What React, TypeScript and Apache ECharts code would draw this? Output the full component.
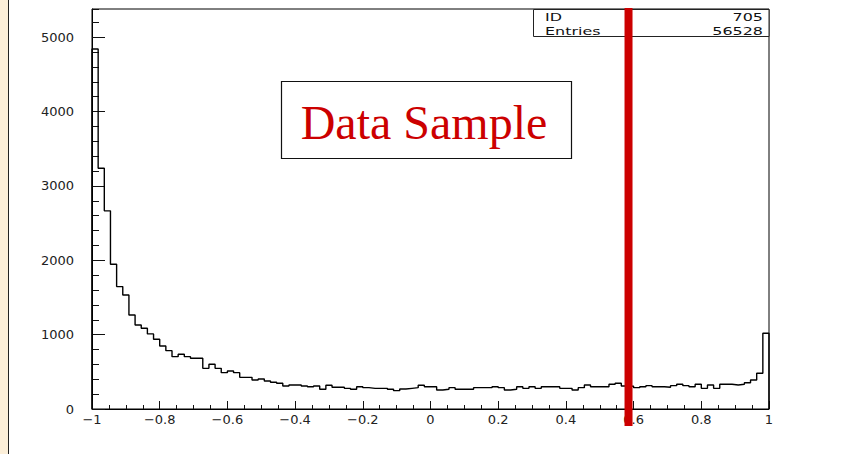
import React, { useEffect, useRef } from "react";
import * as echarts from "echarts";

// Histogram binning
const BIN_COUNT = 110;
const X_MIN = -1;
const X_MAX = 1;

// Entries per bin, left to right
const binCounts = [
  4841, 3239, 2665, 1947, 1646, 1534, 1265, 1130, 1086, 1010,
  938, 848, 785, 704, 736, 704, 682, 682, 547, 601,
  547, 489, 511, 489, 426, 426, 390, 404, 377, 359,
  346, 310, 323, 323, 310, 300, 310, 265, 319, 292,
  292, 278, 265, 300, 287, 278, 278, 278, 265, 247,
  269, 278, 287, 319, 300, 300, 256, 265, 287, 265,
  265, 265, 287, 287, 287, 300, 287, 256, 265, 300,
  278, 300, 278, 300, 300, 300, 278, 278, 256, 287,
  323, 300, 300, 300, 332, 346, 310, 305, 287, 300,
  314, 300, 300, 292, 314, 332, 314, 300, 332, 278,
  323, 278, 332, 332, 323, 332, 354, 390, 480, 1019,
];

const xTickValues = [-1, -0.8, -0.6, -0.4, -0.2, 0, 0.2, 0.4, 0.6, 0.8, 1];
const xTickLabels = ["\u22121", "\u22120.8", "\u22120.6", "\u22120.4", "\u22120.2", "0", "0.2", "0.4", "0.6", "0.8", "1"];
const yTickValues = [0, 1000, 2000, 3000, 4000, 5000];
const yTickLabels = ["0", "1000", "2000", "3000", "4000", "5000"];
const Y_MAX = 5380;

const statsLabels = ["ID", "Entries"];
const statsValues = ["705", "56528"];

const CUT_VALUE = 0.585;
const TITLE_TEXT = "Data Sample";

const AXIS_FONT = "'DejaVu Sans', 'Liberation Sans', sans-serif";

function labelFor(values: number[], labels: string[], v: number): string {
  const i = values.findIndex((t) => Math.abs(t - v) < 1e-6);
  return i >= 0 ? labels[i] : "";
}

export default function App() {
  const ref = useRef<HTMLDivElement>(null);

  useEffect(() => {
    if (!ref.current) return;
    const chart = echarts.init(ref.current, null, { renderer: "svg" });

    const binWidth = (X_MAX - X_MIN) / BIN_COUNT;
    const stepPoints: number[][] = [[X_MIN, 0]];
    binCounts.forEach((c, i) => stepPoints.push([X_MIN + i * binWidth, c]));
    stepPoints.push([X_MAX, binCounts[binCounts.length - 1]]);
    stepPoints.push([X_MAX, 0]);

    const tickColor = "#111";

    chart.setOption({
      animation: false,
      backgroundColor: "#fff",
      grid: {
        left: 92,
        top: 9,
        width: 677,
        height: 400,
        show: true,
        borderColor: "#000",
        borderWidth: 1,
        backgroundColor: "#fff",
      },
      xAxis: {
        type: "value",
        min: X_MIN,
        max: X_MAX,
        interval: 0.2,
        axisLine: { show: true, onZero: false, lineStyle: { color: "#000", width: 1 } },
        axisTick: { show: true, inside: true, length: 8, lineStyle: { color: tickColor } },
        minorTick: { show: true, splitNumber: 4, length: 4, lineStyle: { color: tickColor } },
        splitLine: { show: false },
        axisLabel: {
          margin: 4,
          fontFamily: AXIS_FONT,
          fontSize: 13,
          color: "#222",
          formatter: (v: number) => labelFor(xTickValues, xTickLabels, v),
        },
      },
      yAxis: [
        {
          type: "value",
          min: 0,
          max: Y_MAX,
          interval: 1000,
          axisLine: { show: true, onZero: false, lineStyle: { color: "#000", width: 1 } },
          axisTick: { show: true, inside: true, length: 13, lineStyle: { color: tickColor } },
          splitLine: { show: false },
          axisLabel: {
            margin: 18,
            showMaxLabel: false,
            fontFamily: AXIS_FONT,
            fontSize: 13,
            color: "#222",
            formatter: (v: number) => labelFor(yTickValues, yTickLabels, v),
          },
        },
        {
          type: "value",
          position: "left",
          min: 0,
          max: Y_MAX,
          interval: 200,
          axisLine: { show: false, onZero: false },
          axisTick: { show: true, inside: true, length: 7, lineStyle: { color: tickColor } },
          splitLine: { show: false },
          axisLabel: { show: false },
        },
      ],
      series: [
        {
          type: "line",
          yAxisIndex: 0,
          step: "end",
          showSymbol: false,
          symbol: "none",
          data: stepPoints,
          lineStyle: { color: "#000", width: 1.4 },
          z: 3,
        },
      ],
    });

    const cutX = chart.convertToPixel({ xAxisIndex: 0 }, CUT_VALUE) as number;

    const statsFont = "11px " + AXIS_FONT;
    const statsText: any[] = [];
    statsLabels.forEach((lab, i) => {
      const y = 17 + i * 14;
      statsText.push({
        type: "text",
        x: 545,
        y,
        scaleX: 1.45,
        style: { text: lab, font: statsFont, fill: "#111", align: "left", verticalAlign: "middle" },
        z: 11,
      });
      statsText.push({
        type: "text",
        x: 763,
        y,
        scaleX: 1.45,
        style: { text: statsValues[i], font: statsFont, fill: "#111", align: "right", verticalAlign: "middle" },
        z: 11,
      });
    });

    chart.setOption({
      graphic: [
        // left page strip
        { type: "rect", shape: { x: 0, y: 0, width: 8, height: 454 }, style: { fill: "#fcefd9" }, z: 1 },
        { type: "line", shape: { x1: 8.5, y1: 0, x2: 8.5, y2: 454 }, style: { stroke: "#222", lineWidth: 1 }, z: 1 },
        // statistics box
        {
          type: "rect",
          shape: { x: 533.5, y: 9.5, width: 235.5, height: 27 },
          style: { fill: "#fff", stroke: "#222", lineWidth: 1 },
          z: 10,
        },
        ...statsText,
        // title box
        {
          type: "rect",
          shape: { x: 281.5, y: 81.5, width: 290, height: 77 },
          style: { fill: "#fff", stroke: "#111", lineWidth: 1.2 },
          z: 10,
        },
        {
          type: "text",
          x: 424,
          y: 122,
          style: {
            text: TITLE_TEXT,
            font: "48px 'Liberation Serif', 'DejaVu Serif', serif",
            fill: "#cc0000",
            align: "center",
            verticalAlign: "middle",
          },
          z: 11,
        },
        // cut line
        {
          type: "rect",
          shape: { x: cutX - 4, y: 8, width: 8, height: 418 },
          style: { fill: "#cc0000" },
          z: 20,
        },
      ],
    });

    return () => chart.dispose();
  }, []);

  return (
    <div
      ref={ref}
      style={{ position: "fixed", left: 0, top: 0, width: 847, height: 454, background: "#fff" }}
    />
  );
}
